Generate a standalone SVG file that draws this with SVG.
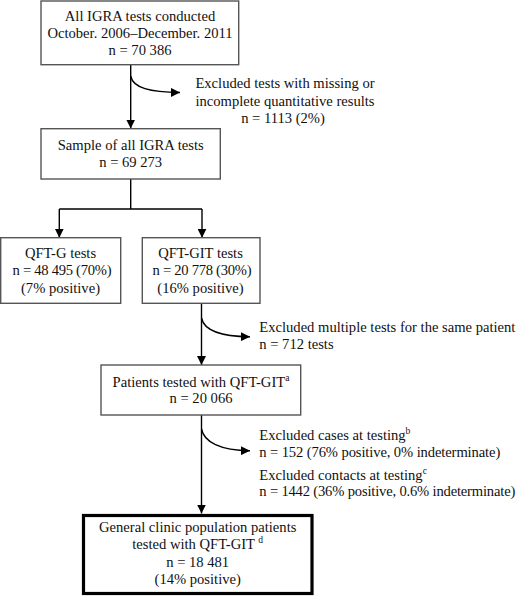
<svg xmlns="http://www.w3.org/2000/svg" width="520" height="597" viewBox="0 0 520 597">
<defs>
<marker id="ah" viewBox="0 0 10 10" refX="10" refY="5" markerWidth="9" markerHeight="9" markerUnits="userSpaceOnUse" orient="auto">
<path d="M0,0 L10,5 L0,10 Z" fill="#000"/>
</marker>
</defs>
<style>
text{font-family:"Liberation Serif","Times New Roman",serif;font-size:14.6px;fill:#111}
.c{text-anchor:middle}
.box{fill:#fff;stroke:#555;stroke-width:1.4}
.thick{fill:#fff;stroke:#000;stroke-width:3.2}
.ln{fill:none;stroke:#000;stroke-width:1.4}
.sup{font-size:9.5px}
</style>
<rect width="520" height="597" fill="#fff"/>
<g id="connectors">
<path class="ln" d="M130.7,64.7 V128.5" marker-end="url(#ah)"/>
<path class="ln" d="M130.7,76 C133,88 150,92.3 180,92.5" marker-end="url(#ah)"/>
<path class="ln" d="M130.7,179 V209 M59.3,209 H202"/>
<path class="ln" d="M59.3,209 V237.7" marker-end="url(#ah)"/>
<path class="ln" d="M202,209 V237.7" marker-end="url(#ah)"/>
<path class="ln" d="M201.5,303.3 V365" marker-end="url(#ah)"/>
<path class="ln" d="M201.5,318 C204,330 220,336.5 250,336.7" marker-end="url(#ah)"/>
<path class="ln" d="M201.5,415 V513.5" marker-end="url(#ah)"/>
<path class="ln" d="M201.5,429 C204,442 220,450.5 250,450.7" marker-end="url(#ah)"/>
</g>
<g id="n1">
<rect class="box" x="41" y="1" width="197.7" height="63.7"/>
<text class="c" x="140" y="20.7">All IGRA tests conducted</text>
<text class="c" x="140" y="37.7">October. 2006–December. 2011</text>
<text class="c" x="140" y="55">n = 70 386</text>
</g>
<g id="x1">
<text class="c" x="285" y="88.3">Excluded tests with missing or</text>
<text class="c" x="285" y="106">incomplete quantitative results</text>
<text class="c" x="283" y="122.7">n = 1113 (2%)</text>
</g>
<g id="n2">
<rect class="box" x="41" y="128.7" width="179.3" height="50.3"/>
<text class="c" x="130.7" y="150">Sample of all IGRA tests</text>
<text class="c" x="130.7" y="166.7">n = 69 273</text>
</g>
<g id="n3">
<rect class="box" x="0.7" y="237.7" width="120" height="65.6"/>
<text class="c" x="60.5" y="258.3">QFT-G tests</text>
<text class="c" x="62" y="275" textLength="99" lengthAdjust="spacing">n = 48 495 (70%)</text>
<text class="c" x="60.5" y="293.3">(7% positive)</text>
</g>
<g id="n4">
<rect class="box" x="142.3" y="237.7" width="117.7" height="65.6"/>
<text class="c" x="200.5" y="258.3">QFT-GIT tests</text>
<text class="c" x="202" y="275" textLength="99" lengthAdjust="spacing">n = 20 778 (30%)</text>
<text class="c" x="200.5" y="293.3">(16% positive)</text>
</g>
<g id="x2">
<text x="259.3" y="331.7">Excluded multiple tests for the same patient</text>
<text x="259.3" y="349.3">n = 712 tests</text>
</g>
<g id="n5">
<rect class="box" x="101" y="365" width="199.7" height="50"/>
<text class="c" x="201" y="386.7">Patients tested with QFT-GIT<tspan class="sup" dy="-6">a</tspan></text>
<text class="c" x="201" y="403.3">n = 20 066</text>
</g>
<g id="x3">
<text x="259.3" y="440">Excluded cases at testing<tspan class="sup" dy="-6">b</tspan></text>
<text x="259.3" y="456.7" textLength="241" lengthAdjust="spacing">n = 152 (76% positive, 0% indeterminate)</text>
<text x="259.3" y="480">Excluded contacts at testing<tspan class="sup" dy="-6">c</tspan></text>
<text x="259.3" y="496" textLength="256" lengthAdjust="spacing">n = 1442 (36% positive, 0.6% indeterminate)</text>
</g>
<g id="n6">
<rect class="thick" x="83.5" y="515.5" width="228.5" height="78"/>
<text class="c" x="197.7" y="531.7">General clinic population patients</text>
<text class="c" x="197.7" y="549.3">tested with QFT-GIT <tspan class="sup" dy="-6">d</tspan></text>
<text class="c" x="197.7" y="566.7">n = 18 481</text>
<text class="c" x="197.7" y="584">(14% positive)</text>
</g>
</svg>
